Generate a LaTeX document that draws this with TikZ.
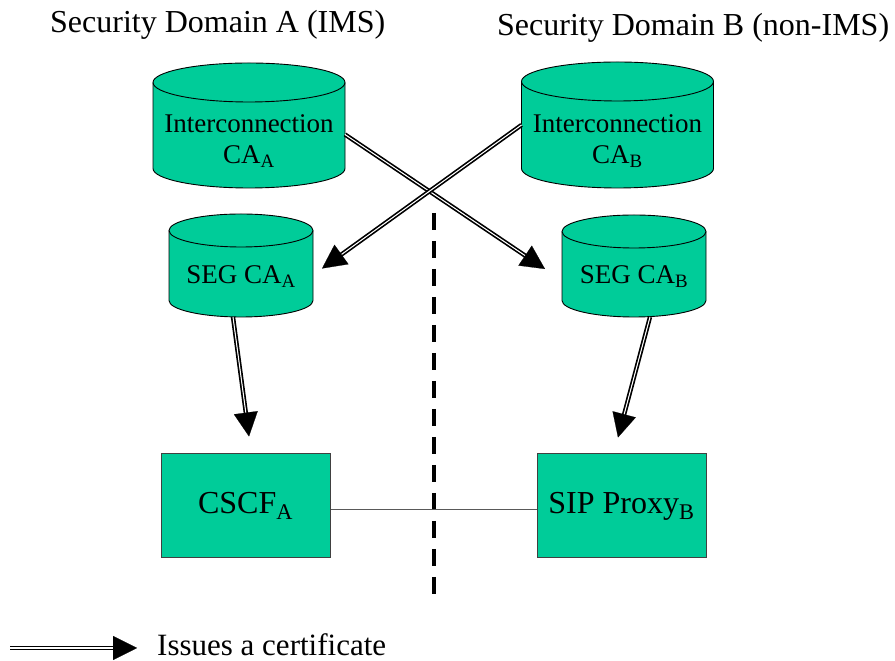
\documentclass[tikz,border=0pt]{standalone}
\usepackage{fontspec}
\setmainfont{Liberation Serif}
\usetikzlibrary{arrows.meta,calc}
\definecolor{cafill}{RGB}{0,204,153}

\tikzset{
  x=1pt, y=1pt,
  cylbox/.style={draw=none, inner sep=0pt, outer sep=0pt},
  cylline/.style={draw=black, line width=0.9pt, fill=cafill},
  cyltext/.style={font=\fontsize{27}{31}\selectfont, align=center, inner sep=0pt},
  entity/.style={draw=black!75, line width=1pt, fill=cafill, inner sep=0pt,
    minimum width=169pt, minimum height=104pt, font=\fontsize{32}{36}\selectfont},
  % double shaft drawn first, then a solid black head on top of it
  issue/.style={
    preaction={draw=black, line width=1.7pt, double=white, double distance=1pt,
      arrows=-, shorten >=16pt},
    draw=white, line width=0.2pt,
    -{Triangle[length=24pt,width=24pt,color=black,fill=black]}},
  domtitle/.style={font=\fontsize{32}{36}\selectfont, inner sep=0pt, anchor=base west},
  border/.style={line width=3.7pt, dash pattern=on 17pt off 11pt},
  link/.style={draw=black!65, line width=1pt}
}

% #1 name, #2 centre x, #3 top y, #4 bottom y, #5 x radius, #6 y radius
\newcommand{\dbcyl}[6]{%
  \node[cylbox, minimum width={2*#5}, minimum height={#3-#4}] (#1)
    at ({#2},{(#3+#4)/2}) {};
  \path[cylline] ($(#1.north west)+(0,-#6)$) -- ($(#1.south west)+(0,#6)$)
    arc[start angle=180, end angle=360, x radius=#5, y radius=#6]
    -- ($(#1.north east)+(0,-#6)$)
    arc[start angle=0, end angle=180, x radius=#5, y radius=#6] -- cycle;
  \draw[line width=0.9pt] ($(#1.north west)+(0,-#6)$)
    arc[start angle=180, end angle=360, x radius=#5, y radius=#6];
}

\begin{document}
\begin{tikzpicture}
\useasboundingbox (0,0) rectangle (895,661);

% domain headings
\node[domtitle] (titleA) at (50,628) {Security Domain A (IMS)};
\node[domtitle] (titleB) at (497,625) {Security Domain B (non-IMS)};

% certificate authorities
\dbcyl{icaA}{249}{598}{473}{96}{19.5}
\dbcyl{icaB}{617.5}{599}{473}{96}{19.5}
\dbcyl{segA}{241}{447}{344}{72}{16.5}
\dbcyl{segB}{634}{446}{344}{72}{16.5}

\node[cyltext] (icaAtext) at ($(icaA.center)+(0,-16)$) {Interconnection\\CA\textsubscript{A}};
\node[cyltext] (icaBtext) at ($(icaB.center)+(0,-16)$) {Interconnection\\CA\textsubscript{B}};
\node[cyltext, anchor=base] (segAtext) at ($(segA.center)+(0,-18)$) {SEG CA\textsubscript{A}};
\node[cyltext, anchor=base] (segBtext) at ($(segB.center)+(0,-18)$) {SEG CA\textsubscript{B}};

% network elements
\node[entity] (cscfA) at (245.5,155) {CSCF\textsubscript{A}};
\node[entity] (sipB) at (621.5,155) {SIP Proxy\textsubscript{B}};

% domain boundary
\coordinate (bordertop) at (434,448);
\coordinate (borderbot) at (434,66);
\draw[border] (bordertop) -- (borderbot);

% interconnection between the domains
\draw[link] ($(cscfA.east)+(0,-4)$) -- ($(sipB.west)+(0,-4)$);

% certificate issuing
\draw[issue] ($(icaA.east)+(0,-9)$) -- ($(segB.west)+(-17,-3)$);
\draw[issue] (icaB.west) -- ($(segA.east)+(9,-3)$);
\draw[issue] ($(segA.south)+(-8,0)$) -- ($(cscfA.north)+(3.5,17)$);
\draw[issue] ($(segB.south)+(16,0)$) -- ($(sipB.north)+(-3.5,16)$);

% legend
\coordinate (legstart) at (10,13);
\coordinate (legend) at (137,13);
\draw[issue] (legstart) -- (legend);
\node[font=\fontsize{31}{35}\selectfont, inner sep=0pt, anchor=base west] (legtext) at (157,5) {Issues a certificate};
\end{tikzpicture}
\end{document}
